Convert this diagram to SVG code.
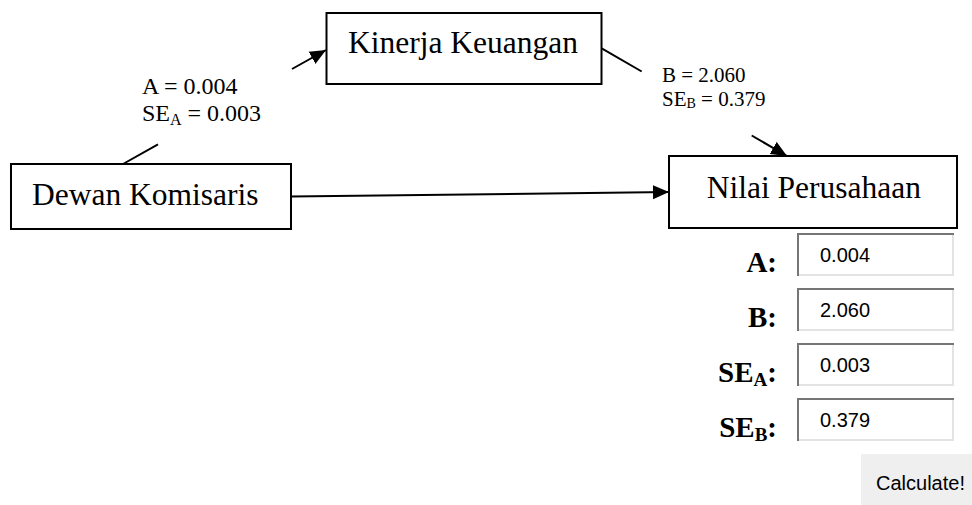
<svg xmlns="http://www.w3.org/2000/svg" width="972" height="505" viewBox="0 0 972 505">
<style>
.box{fill:#fff;stroke:#000;stroke-width:2}
.nt{font-family:"Liberation Serif","Times New Roman",serif;font-size:31.5px;fill:#000}
.lbl{font-family:"Liberation Serif","Times New Roman",serif;fill:#000}
.edge{stroke:#000;stroke-width:2;fill:none}
.fl{font-family:"Liberation Serif","Times New Roman",serif;font-size:29px;font-weight:bold;fill:#000;text-anchor:end}
.inp{fill:#fff}
.dk{stroke:#767676;stroke-width:2;fill:none}
.lt{stroke:#e3e3e3;stroke-width:2;fill:none}
.val{font-family:"Liberation Sans",Arial,sans-serif;font-size:20px;fill:#000}
</style>
<defs>
<marker id="ah" markerUnits="userSpaceOnUse" markerWidth="17" markerHeight="15" refX="16" refY="7.5" orient="auto" viewBox="0 0 17 15">
<path d="M0,0.5 L16,7.5 L0,14.5 z" fill="#000"/>
</marker>
</defs>
<rect width="972" height="505" fill="#fff"/>
<g id="connectors">
<line class="edge" x1="123" y1="164" x2="158" y2="144.3"/>
<line class="edge" x1="292" y1="69" x2="326" y2="50" marker-end="url(#ah)"/>
<line class="edge" x1="601.7" y1="48.3" x2="641.7" y2="71.5"/>
<line class="edge" x1="751.7" y1="135.5" x2="787" y2="156" marker-end="url(#ah)"/>
<line class="edge" x1="291" y1="196.5" x2="669" y2="192" marker-end="url(#ah)"/>
<text class="lbl" font-size="24" x="142" y="94">A = 0.004</text>
<text class="lbl" font-size="24" x="142" y="120.5">SE<tspan font-size="16" dy="4">A</tspan><tspan dy="-4"> = 0.003</tspan></text>
<text class="lbl" font-size="21" x="662" y="81.7">B = 2.060</text>
<text class="lbl" font-size="21" x="662" y="106">SE<tspan font-size="14" dy="2">B</tspan><tspan dy="-2"> = 0.379</tspan></text>
</g>
<g id="kinerja">
<rect class="box" x="326.5" y="13" width="275" height="71"/>
<text class="nt" x="348" y="53">Kinerja Keuangan</text>
</g>
<g id="dewan">
<rect class="box" x="11" y="164" width="280" height="65"/>
<text class="nt" x="32" y="205">Dewan Komisaris</text>
</g>
<g id="nilai">
<rect class="box" x="669" y="156" width="288" height="72"/>
<text class="nt" x="706.7" y="198">Nilai Perusahaan</text>
</g>
<g id="form">
<text class="fl" x="777" y="272">A:</text>
<text class="fl" x="777" y="327">B:</text>
<text class="fl" x="777" y="382">SE<tspan font-size="19" dy="4">A</tspan><tspan dy="-4">:</tspan></text>
<text class="fl" x="777" y="437">SE<tspan font-size="19" dy="4">B</tspan><tspan dy="-4">:</tspan></text>
<g id="input-a">
<rect class="inp" x="797" y="233" width="157" height="43"/>
<path class="lt" d="M797,275 H953 V234"/>
<path class="dk" d="M798,276 V234 H954"/>
<text class="val" x="820" y="261.7">0.004</text>
</g>
<g id="input-b">
<rect class="inp" x="797" y="288" width="157" height="43"/>
<path class="lt" d="M797,330 H953 V289"/>
<path class="dk" d="M798,331 V289 H954"/>
<text class="val" x="820" y="316.7">2.060</text>
</g>
<g id="input-sea">
<rect class="inp" x="797" y="343" width="157" height="43"/>
<path class="lt" d="M797,385 H953 V344"/>
<path class="dk" d="M798,386 V344 H954"/>
<text class="val" x="820" y="371.7">0.003</text>
</g>
<g id="input-seb">
<rect class="inp" x="797" y="398" width="157" height="43"/>
<path class="lt" d="M797,440 H953 V399"/>
<path class="dk" d="M798,441 V399 H954"/>
<text class="val" x="820" y="426.7">0.379</text>
</g>
<g id="button">
<rect x="861" y="454" width="111" height="51" fill="#efefef"/>
<text class="val" x="876" y="490">Calculate!</text>
</g>
</g>
</svg>
